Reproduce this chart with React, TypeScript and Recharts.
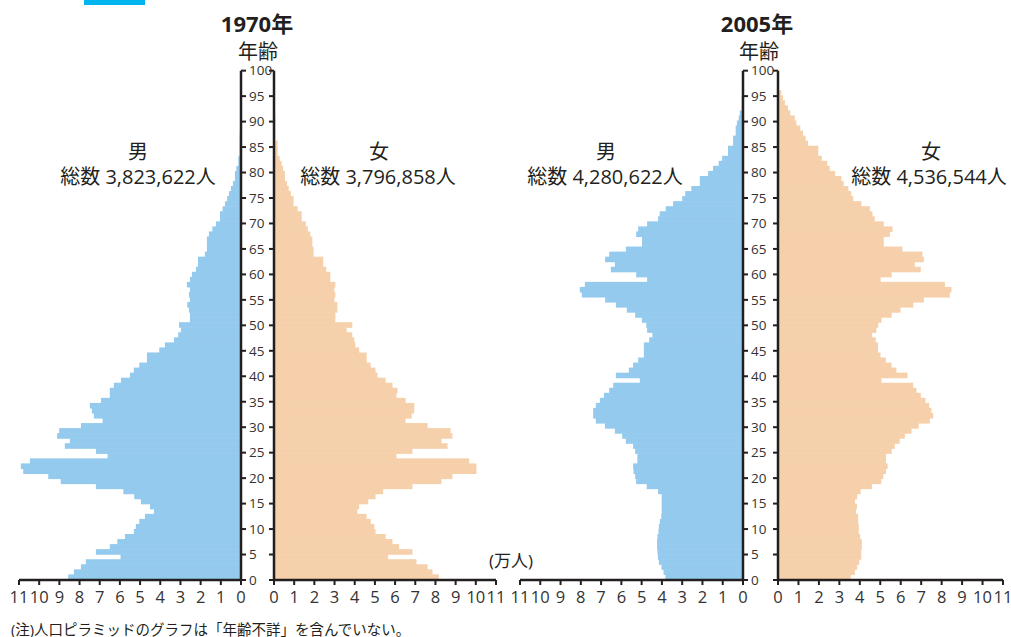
import { BarChart, Bar, XAxis, YAxis } from 'recharts';

// population by single year of age, in units of 10,000 people (万人)
const AGES = Array.from({ length: 101 }, (_, i) => i);
const AGE_TICKS = [0, 5, 10, 15, 20, 25, 30, 35, 40, 45, 50, 55, 60, 65, 70, 75, 80, 85, 90, 95, 100];
const X_TICKS = [0, 1, 2, 3, 4, 5, 6, 7, 8, 9, 10, 11];

const male1970 = [
  8.56, 8.28, 7.93, 7.69, 5.97, 7.19, 6.5, 6.13, 5.75, 5.31,
  5.21, 5.04, 4.76, 4.31, 4.51, 4.96, 5.29, 5.83, 7.19, 8.93,
  9.55, 10.79, 10.91, 10.46, 6.61, 7.19, 8.73, 8.48, 9.11, 9.01,
  7.93, 6.86, 7.29, 7.39, 7.49, 6.94, 6.5, 6.5, 6.3, 5.95,
  5.5, 5.31, 5.04, 4.66, 4.66, 4.05, 3.77, 3.32, 3.11, 2.98,
  3.07, 2.53, 2.53, 2.58, 2.66, 2.53, 2.58, 2.53, 2.68, 2.53,
  2.43, 2.23, 2.13, 2.13, 1.79, 1.69, 1.69, 1.69, 1.59, 1.42,
  1.24, 1.04, 1.04, 0.91, 0.79, 0.69, 0.6, 0.5, 0.4, 0.3,
  0.3, 0.23, 0.13, 0.13, 0.07, 0.07, 0.07, 0.07, 0.06, 0,
  0, 0, 0, 0, 0, 0, 0, 0, 0, 0,
  0,
];

const female1970 = [
  8.17, 7.85, 7.61, 7.06, 5.66, 6.86, 6.2, 5.87, 5.53, 5.03,
  4.97, 4.79, 4.59, 4.13, 4.22, 4.67, 5.03, 5.41, 6.86, 8.3,
  8.84, 10.03, 10.03, 9.67, 6.07, 6.86, 8.6, 8.3, 8.84, 8.75,
  7.61, 6.52, 6.82, 6.95, 6.95, 6.52, 6.07, 6.12, 5.87, 5.53,
  5.13, 5.03, 4.79, 4.59, 4.59, 4.22, 4.03, 3.98, 3.88, 3.6,
  3.88, 3.04, 3.04, 3.14, 3.14, 2.99, 3.04, 2.99, 3.04, 2.79,
  2.79, 2.59, 2.44, 2.44, 1.96, 1.96, 1.9, 1.9, 1.8, 1.68,
  1.58, 1.37, 1.37, 1.17, 0.97, 0.97, 0.84, 0.73, 0.64, 0.54,
  0.54, 0.45, 0.38, 0.28, 0.18, 0.18, 0.18, 0.07, 0.07, 0.07,
  0.07, 0.07, 0, 0, 0, 0, 0, 0, 0, 0,
  0,
];

const male2005 = [
  3.83, 3.92, 4.02, 4.15, 4.2, 4.22, 4.24, 4.24, 4.22, 4.17,
  4.15, 4.1, 4.03, 4.01, 4.01, 4.01, 4.01, 4.19, 4.75, 5.27,
  5.32, 5.4, 5.42, 5.21, 5.21, 5.32, 5.42, 5.78, 5.96, 6.32,
  6.81, 7.26, 7.39, 7.39, 7.26, 7.06, 6.86, 6.6, 6.4, 5.09,
  6.27, 5.63, 5.42, 5.17, 4.89, 4.89, 4.89, 4.63, 4.47, 4.73,
  4.77, 4.99, 5.32, 5.73, 6.27, 6.8, 7.95, 8.05, 7.8, 4.73,
  5.27, 6.52, 6.32, 6.8, 6.6, 5.78, 4.98, 4.98, 5.27, 5.17,
  4.73, 4.19, 4.11, 3.81, 3.45, 3.0, 2.85, 2.55, 2.13, 2.13,
  1.72, 1.48, 1.2, 1.03, 0.74, 0.74, 0.49, 0.49, 0.36, 0.36,
  0.3, 0.21, 0.16, 0.07, 0.07, 0.07, 0.05, 0, 0, 0,
  0,
];

const female2005 = [
  3.56, 3.76, 3.87, 3.97, 4.07, 4.07, 4.1, 4.1, 4.02, 3.95,
  3.95, 3.92, 3.92, 3.81, 3.86, 3.77, 3.87, 4.04, 4.59, 5.05,
  5.15, 5.28, 5.36, 5.28, 5.28, 5.56, 5.71, 5.95, 6.2, 6.53,
  6.88, 7.42, 7.59, 7.5, 7.39, 7.21, 6.98, 6.77, 6.61, 5.06,
  6.33, 5.79, 5.55, 5.27, 5.01, 4.89, 4.89, 4.78, 4.6, 4.81,
  4.9, 5.06, 5.56, 5.99, 6.61, 7.13, 8.4, 8.48, 8.16, 5.02,
  5.56, 6.98, 6.69, 7.13, 7.06, 6.08, 5.17, 5.17, 5.47, 5.6,
  5.17, 4.73, 4.62, 4.49, 4.08, 3.68, 3.58, 3.44, 3.21, 3.1,
  2.79, 2.53, 2.41, 2.14, 1.97, 1.97, 1.47, 1.35, 1.22, 1.09,
  0.9, 0.82, 0.6, 0.49, 0.34, 0.24, 0.16, 0.05, 0.05, 0.04,
  0,
];

const rows1970 = AGES.map((age, i) => ({ age, male: male1970[i], female: female1970[i] }));
const rows2005 = AGES.map((age, i) => ({ age, male: male2005[i], female: female2005[i] }));

const MALE_COLOR = '#94CAED';
const FEMALE_COLOR = '#F5D0AB';
const AXIS = '#231F20';
const LABEL = '#333';
const FONT = '"Open Sans", "Noto Sans CJK JP", sans-serif';

const H = 637;
const TOP = 70.66;
const BOTTOM = 27;

// bars drawn a hair taller so that neighbouring ages don't leave seams
const BarShape = (props: any) => {
  const { x, y, width, height, fill } = props;
  if (!width || !height) return <g />;
  const x0 = width < 0 ? x + width : x;
  return <rect x={x0} y={y - 0.6} width={Math.abs(width)} height={height + 0.6} fill={fill} />;
};

const axisLine = { stroke: AXIS, strokeWidth: 2.5 };
const tickLine = { stroke: AXIS, strokeWidth: 2 };

function MaleSide({ rows, left, width, marginLeft }: { rows: any[]; left: number; width: number; marginLeft: number }) {
  return (
    <div style={{ position: 'absolute', left, top: 0 }}>
      <BarChart
        layout="vertical"
        width={width}
        height={H}
        data={rows}
        margin={{ top: TOP, right: 0, bottom: BOTTOM, left: marginLeft }}
        barCategoryGap={0}
      >
        <XAxis
          type="number"
          domain={[0, 11]}
          ticks={X_TICKS}
          reversed
          interval={0}
          allowDataOverflow
          height={30}
          tickSize={5}
          tickMargin={6}
          axisLine={axisLine}
          tickLine={tickLine}
          tick={{ fill: LABEL, fontSize: 16.5 }}
        />
        <YAxis yAxisId="cat" type="category" dataKey="age" reversed hide />
        <YAxis
          yAxisId="age"
          type="number"
          orientation="right"
          domain={[0, 101]}
          allowDataOverflow
          reversed
          ticks={AGE_TICKS}
          interval={0}
          width={59}
          tickSize={5}
          tickMargin={3}
          axisLine={axisLine}
          tickLine={tickLine}
          tick={{ fill: LABEL, fontSize: 13.5 }}
        />
        <Bar dataKey="male" yAxisId="cat" fill={MALE_COLOR} isAnimationActive={false} shape={BarShape} />
      </BarChart>
    </div>
  );
}

function FemaleSide({ rows, left, width }: { rows: any[]; left: number; width: number }) {
  return (
    <div style={{ position: 'absolute', left, top: 0 }}>
      <BarChart
        layout="vertical"
        width={width}
        height={H}
        data={rows}
        margin={{ top: TOP, right: 8, bottom: BOTTOM, left: 0 }}
        barCategoryGap={0}
      >
        <XAxis
          type="number"
          domain={[0, 11]}
          ticks={X_TICKS}
          interval={0}
          allowDataOverflow
          height={30}
          tickSize={5}
          tickMargin={6}
          axisLine={axisLine}
          tickLine={tickLine}
          tick={{ fill: LABEL, fontSize: 16.5 }}
        />
        <YAxis yAxisId="cat" type="category" dataKey="age" reversed hide />
        <YAxis
          yAxisId="age"
          type="number"
          orientation="left"
          domain={[0, 101]}
          allowDataOverflow
          reversed
          ticks={AGE_TICKS}
          interval={0}
          width={30}
          tickSize={5}
          axisLine={axisLine}
          tickLine={tickLine}
          tickFormatter={() => ''}
        />
        <Bar dataKey="female" yAxisId="cat" fill={FEMALE_COLOR} isAnimationActive={false} shape={BarShape} />
      </BarChart>
    </div>
  );
}

export default function App() {
  const t = { fontFamily: FONT, fill: AXIS };
  return (
    <div className="pyr" style={{ position: 'absolute', left: 0, top: 0, width: 1011, height: H, background: '#fff', fontFamily: FONT, overflow: 'hidden' }}>
      <style>{`
        .pyr .recharts-xAxis .recharts-cartesian-axis-tick-value { letter-spacing: -0.6px; }
        .pyr .recharts-yAxis .recharts-cartesian-axis-tick-value { letter-spacing: -0.9px; }
      `}</style>

      <MaleSide rows={rows1970} left={0} width={300} marginLeft={19} />
      <FemaleSide rows={rows1970} left={244} width={260} />
      <MaleSide rows={rows2005} left={500} width={302} marginLeft={20} />
      <FemaleSide rows={rows2005} left={748} width={263} />

      <svg width={1011} height={H} style={{ position: 'absolute', left: 0, top: 0, pointerEvents: 'none' }}>
        <rect x={84} y={0} width={61} height={5} fill="#00B5EF" />

        <text {...t} x={257} y={23} fontSize={22} fontWeight="bold" textAnchor="middle" dominantBaseline="central">1970年</text>
        <text {...t} x={258} y={51} fontSize={20} textAnchor="middle" dominantBaseline="central">年齢</text>
        <text {...t} x={138} y={151} fontSize={20} textAnchor="middle" dominantBaseline="central">男</text>
        <text {...t} x={138} y={176} fontSize={20} textAnchor="middle" dominantBaseline="central">総数 3,823,622人</text>
        <text {...t} x={379} y={151} fontSize={20} textAnchor="middle" dominantBaseline="central">女</text>
        <text {...t} x={378} y={176} fontSize={20} textAnchor="middle" dominantBaseline="central">総数 3,796,858人</text>

        <text {...t} x={757} y={23} fontSize={22} fontWeight="bold" textAnchor="middle" dominantBaseline="central">2005年</text>
        <text {...t} x={759} y={51} fontSize={20} textAnchor="middle" dominantBaseline="central">年齢</text>
        <text {...t} x={606} y={151} fontSize={20} textAnchor="middle" dominantBaseline="central">男</text>
        <text {...t} x={605} y={176} fontSize={20} textAnchor="middle" dominantBaseline="central">総数 4,280,622人</text>
        <text {...t} x={931} y={151} fontSize={20} textAnchor="middle" dominantBaseline="central">女</text>
        <text {...t} x={929} y={176} fontSize={20} textAnchor="middle" dominantBaseline="central">総数 4,536,544人</text>

        <text {...t} x={511} y={560} fontSize={17} textAnchor="middle" dominantBaseline="central">(万人)</text>
        <text {...t} x={11} y={629} fontSize={14.5} dominantBaseline="central">(注)人口ピラミッドのグラフは「年齢不詳」を含んでいない。</text>
      </svg>
    </div>
  );
}
